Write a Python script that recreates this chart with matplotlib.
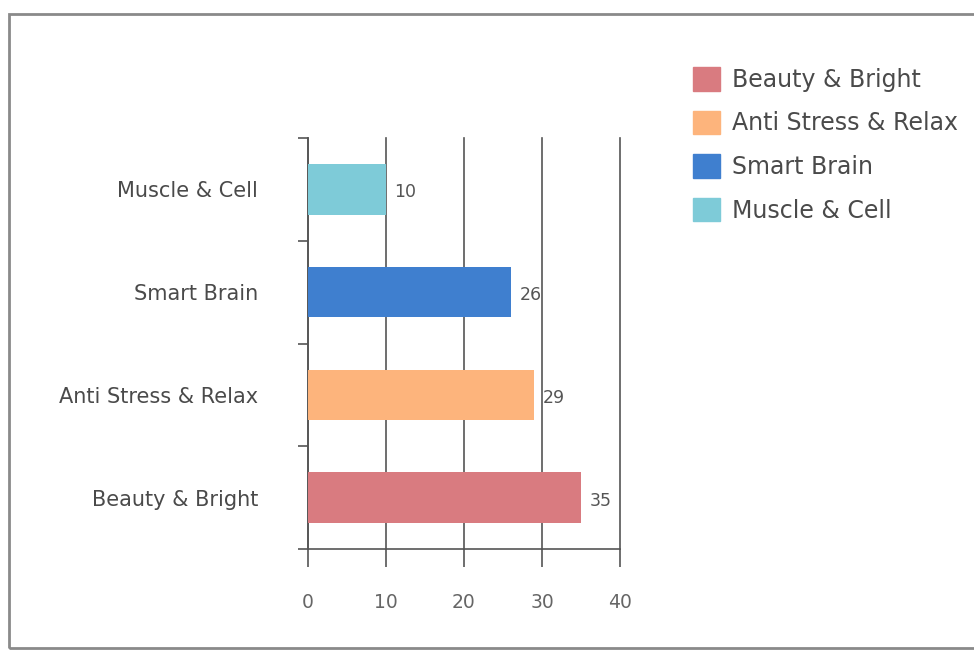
import matplotlib.pyplot as plt
from matplotlib.patches import Rectangle, Patch

# data
categories = ["Beauty & Bright", "Anti Stress & Relax", "Smart Brain", "Muscle & Cell"]
values = [35, 29, 26, 10]
colors = ["#d97b80", "#fdb47c", "#3f7fcf", "#7ecbd8"]

plt.rcParams['font.family'] = ['DejaVu Sans']
text_color = "#4a4a4a"
line_color = "#555555"

fig = plt.figure(figsize=(9.74, 6.56), dpi=100)
ax = fig.add_axes([0.3162, 0.1631, 0.3203, 0.6265])

ypos = list(range(len(categories)))
ax.barh(ypos, values, height=0.49, color=colors, zorder=3)

for y, v in zip(ypos, values):
    ax.text(v + 1.1, y - 0.03, str(v), va="center", ha="left",
            fontsize=12.5, color="#555555")

ax.set_xlim(0, 40)
ax.set_ylim(-0.5, 3.5)
ax.set_xticks([0, 10, 20, 30, 40])
ax.set_yticks(ypos)
ax.set_yticklabels(categories)
ax.set_yticks([-0.5, 0.5, 1.5, 2.5, 3.5], minor=True)

ax.tick_params(axis="y", which="major", length=0, pad=36, labelsize=15,
               labelcolor=text_color)
ax.tick_params(axis="y", which="minor", length=7, width=1.2, color=line_color)
ax.tick_params(axis="x", length=13, width=1.2, color=line_color, pad=19,
               labelsize=13.5, labelcolor="#666666")

ax.grid(axis="x", color=line_color, linewidth=1.2, zorder=1)
for gl in ax.xaxis.get_gridlines():
    gl.set_clip_on(False)
for s in ["top", "right"]:
    ax.spines[s].set_visible(False)
for s in ["left", "bottom"]:
    ax.spines[s].set_color(line_color)
    ax.spines[s].set_linewidth(1.2)

handles = [Patch(color=c, label=l) for c, l in zip(colors, categories)]
fig.legend(handles=handles, loc="upper left", bbox_to_anchor=(0.7015, 0.912),
           frameon=False, fontsize=17, labelcolor=text_color,
           handlelength=1.15, handleheight=1.15, handletextpad=0.5,
           labelspacing=0.8, borderaxespad=0)

# outer frame
fig.patches.append(Rectangle((0.009, 0.012), 1.0, 0.966, transform=fig.transFigure,
                             fill=False, edgecolor="#8a8a8a", linewidth=2))

fig.savefig("out.png", dpi=100)
